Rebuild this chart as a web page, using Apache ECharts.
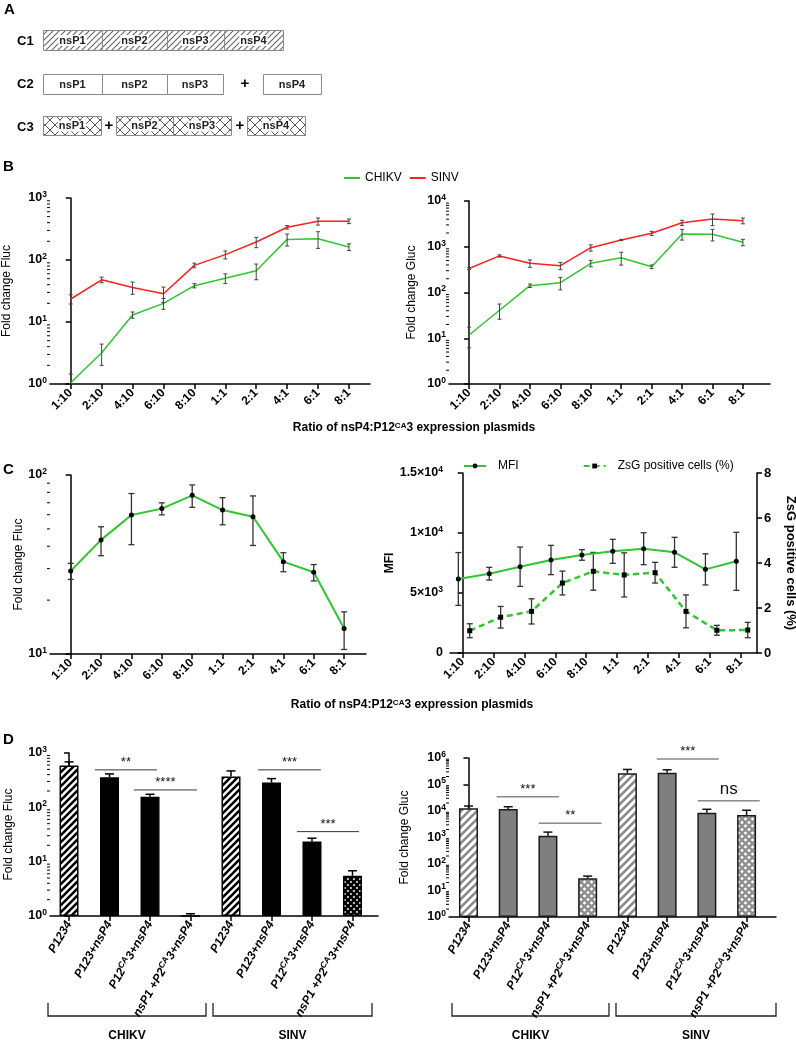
<!DOCTYPE html>
<html><head><meta charset="utf-8">
<script src="https://cdn.jsdelivr.net/npm/echarts@6/dist/echarts.min.js"></script>
<style>html,body{margin:0;padding:0;background:#fff}#c{width:796px;height:1049px}</style>
</head><body><div id="c"></div><script>
// ---------- DATA ----------
const ratios = ['1:10','2:10','4:10','6:10','8:10','1:1','2:1','4:1','6:1','8:1'];
// Panel B (Fluc, Gluc) mean and SD
const bFlucCHIKV   = [1.05, 3.2, 13, 20, 38.5, 50.7, 67, 215, 220, 162];
const bFlucCHIKVsd = [0.4, 1.2, 1.5, 4, 3, 9, 19, 47, 66, 20];
const bFlucSINV    = [23.5, 48, 36, 28.6, 82, 122, 195, 337, 421, 422];
const bFlucSINVsd  = [4, 5, 8, 8, 7, 18, 37, 22, 55, 36];
const bGlucCHIKV   = [11.8, 41, 141, 164, 435, 577, 366, 1900, 1870, 1250];
const bGlucCHIKVsd = [5.6, 15, 12, 50, 70, 180, 33, 500, 530, 200];
const bGlucSINV    = [335, 630, 435, 385, 953, 1405, 1968, 3357, 4042, 3711];
const bGlucSINVsd  = [15, 35, 80, 70, 150, 40, 200, 430, 1150, 540];
// Panel C
const cFluc   = [29.1, 43.4, 59.8, 64.9, 77, 63.7, 58.4, 32.8, 28.6, 13.9];
const cFlucSd = [3, 8, 19, 5, 11, 11, 18, 4, 3, 3.3];
const cMFI    = [6170, 6610, 7190, 7750, 8170, 8470, 8690, 8390, 6970, 7640];
const cMFIsd  = [2200, 530, 1640, 1220, 440, 1000, 1330, 1250, 1300, 2420];
const cZsG    = [0.99, 1.59, 1.85, 3.11, 3.63, 3.47, 3.57, 1.85, 1.01, 1.02];
const cZsGsd  = [0.31, 0.48, 0.56, 0.53, 0.84, 0.98, 0.46, 0.73, 0.22, 0.34];
// Panel D
const dGroups = ['CHIKV', 'SINV'];
const dLabels = ['P1234','P123+nsP4','P12{s|CA}3+nsP4','nsP1 +P2{s|CA}3+nsP4',
                 'P1234','P123+nsP4','P12{s|CA}3+nsP4','nsP1 +P2{s|CA}3+nsP4'];
const dFluc   = [586, 358, 157, 1.0, 368, 285, 23.4, 5.5];
const dFlucSd = [100, 54, 17, 0.1, 100, 53, 3.6, 1.3];
const dGluc   = [12600, 11900, 1170, 29, 265000, 279000, 8620, 7080];
const dGlucSd = [2800, 2600, 430, 6, 105000, 80000, 3000, 3600];
// significance annotations: [from bar, to bar, height]
const dFlucSig = [[0.64, 2.17, 489], [1.6, 3.16, 209], [4.67, 6.22, 489], [5.63, 7.16, 35.7]];
const dFlucSigText = ['**', '****', '***', '***'];
const dGlucSig = [[0.71, 2.28, 34700], [1.77, 3.35, 3436], [4.74, 6.30, 912000], [5.77, 7.33, 24400]];
const dGlucSigText = ['***', '**', '***', 'ns'];

// ---------- HELPERS ----------
const FONT = 'Liberation Sans, Arial, Helvetica, sans-serif';
const GREEN = '#2fc62f', RED = '#ff2020';
function mkCanvas(w, h, draw) { const c = document.createElement('canvas'); c.width = w; c.height = h; draw(c.getContext('2d')); return c; }
const pat = c => ({ image: c, repeat: 'repeat' });
function hatch(fg, bg, s, lw) {
  return pat(mkCanvas(s, s, g => {
    g.fillStyle = bg; g.fillRect(0, 0, s, s);
    g.strokeStyle = fg; g.lineWidth = lw; g.lineCap = 'square';
    g.beginPath();
    g.moveTo(0, s); g.lineTo(s, 0);
    g.moveTo(-s / 2, s / 2); g.lineTo(s / 2, -s / 2);
    g.moveTo(s / 2, s * 1.5); g.lineTo(s * 1.5, s / 2);
    g.stroke();
  }));
}
function cross(fg, bg, s, lw) {
  return pat(mkCanvas(s, s, g => {
    g.fillStyle = bg; g.fillRect(0, 0, s, s);
    g.strokeStyle = fg; g.lineWidth = lw;
    g.beginPath();
    g.moveTo(0, 0); g.lineTo(s, s); g.moveTo(0, s); g.lineTo(s, 0);
    g.stroke();
  }));
}
const pts = (arr, off = 0) => arr.map((v, i) => [i + off, v]);
const errs = (m, sd, off = 0) => m.map((v, i) => [i + off, v, sd[i]]);

function errSeries(xi, yi, data, o) {
  return {
    type: 'custom', xAxisIndex: xi, yAxisIndex: yi, data, silent: true, clip: false, z: o.z || 4,
    encode: { x: 0, y: 1 },
    renderItem: (p, api) => {
      const x = api.value(0), m = api.value(1), s = api.value(2);
      let lo = o.upOnly ? m : m - s; if (lo < o.floor) lo = o.floor;
      const a = api.coord([x, m + s]), b = api.coord([x, lo]);
      const hw = o.cap / 2, st = { stroke: o.color, lineWidth: o.lw };
      const ch = [
        { type: 'line', shape: { x1: b[0], y1: b[1], x2: a[0], y2: a[1] }, style: st },
        { type: 'line', shape: { x1: a[0] - hw, y1: a[1], x2: a[0] + hw, y2: a[1] }, style: st }
      ];
      if (!o.upOnly) ch.push({ type: 'line', shape: { x1: b[0] - hw, y1: b[1], x2: b[0] + hw, y2: b[1] }, style: st });
      return { type: 'group', children: ch };
    }
  };
}
function minorSeries(xi, yi, xmin, lo, hi) {
  const vals = [];
  for (let e = lo; e < hi; e++) for (let j = 2; j <= 9; j++) vals.push([xmin, j * Math.pow(10, e)]);
  return {
    type: 'custom', xAxisIndex: xi, yAxisIndex: yi, data: vals, silent: true, clip: false, z: 1,
    encode: { x: 0, y: 1 },
    renderItem: (p, api) => {
      const c = api.coord([api.value(0), api.value(1)]);
      return { type: 'line', shape: { x1: c[0] - 3, y1: c[1], x2: c[0], y2: c[1] }, style: { stroke: '#000', lineWidth: 1 } };
    }
  };
}
function sigSeries(xi, yi, data, texts, col, lw) {
  return {
    type: 'custom', xAxisIndex: xi, yAxisIndex: yi, data, silent: true, clip: false, z: 6,
    encode: { x: [0, 1], y: 2 },
    renderItem: (p, api) => {
      const a = api.coord([api.value(0), api.value(2)]), b = api.coord([api.value(1), api.value(2)]);
      const t = texts[p.dataIndex];
      return { type: 'group', children: [
        { type: 'line', shape: { x1: a[0], y1: a[1], x2: b[0], y2: b[1] }, style: { stroke: col, lineWidth: lw } },
        { type: 'text', x: (a[0] + b[0]) / 2, y: a[1] - (t === 'ns' ? 3 : 1),
          style: { text: t, fill: '#111', font: (t === 'ns' ? '17px ' : '13px ') + FONT, align: 'center', verticalAlign: 'bottom' } }
      ] };
    }
  };
}

const supRich = {
  b: { fontSize: 12.5, fontWeight: 'bold', fontFamily: FONT, color: '#000', lineHeight: 16 },
  s: { fontSize: 8.5, fontWeight: 'bold', fontFamily: FONT, color: '#000', lineHeight: 9, verticalAlign: 'top' }
};
const logLabel = v => '{b|10}{s|' + Math.round(Math.log10(v)) + '}';
const axLine = { show: true, lineStyle: { color: '#000', width: 1.5 } };
const axTick = { show: true, length: 5, lineStyle: { color: '#000', width: 1.5 } };
const nameStyle = { fontFamily: FONT, fontSize: 12, color: '#000' };

function xAx(gi, min, max, labels, rotate, extra) {
  const vals = labels.map((_, i) => i);
  return {
    type: 'value', gridIndex: gi, min, max, axisLine: axLine, splitLine: { show: false },
    axisTick: Object.assign({}, axTick, { customValues: vals }),
    axisLabel: Object.assign({ customValues: vals, formatter: v => labels[Math.round(v)], rotate, margin: 7,
      fontFamily: FONT, fontWeight: 'bold', fontSize: 12, color: '#000' }, extra || {})
  };
}
function yLog(gi, min, max, name, nameGap) {
  return {
    type: 'log', logBase: 10, gridIndex: gi, min, max, splitNumber: Math.round(Math.log10(max / min)),
    axisLine: axLine, axisTick: axTick, splitLine: { show: false },
    axisLabel: { formatter: logLabel, rich: supRich, margin: 3 },
    name, nameLocation: 'middle', nameGap, nameRotate: 90, nameTextStyle: nameStyle
  };
}

// patterns
const pHatchA = hatch('#666', '#fff', 6, 1.1);
const pCrossA = cross('#555', '#fff', 10, 1);
const pHatchBlk = hatch('#000', '#fff', 7, 2.6);
const pCrossBlk = cross('#000', '#fff', 6, 2.6);
const pHatchGry = hatch('#8a8a8a', '#fff', 8, 2.6);
const pCrossGry = cross('#8f8f8f', '#fff', 7, 2.4);
const dFlucFill = [pHatchBlk, '#000', '#000', pCrossBlk, pHatchBlk, '#000', '#000', pCrossBlk];
const dGlucFill = [pHatchGry, '#7f7f7f', '#7f7f7f', pCrossGry, pHatchGry, '#7f7f7f', '#7f7f7f', pCrossGry];

// ---------- PANEL A & decorations (graphics) ----------
const gfx = [];
const T = (x, y, text, font, extra) => gfx.push({ type: 'text', x, y, silent: true,
  style: Object.assign({ text, font, fill: '#000', align: 'left', verticalAlign: 'middle' }, extra || {}) });
T(4, 10, 'A', 'bold 15px ' + FONT);
T(3, 167, 'B', 'bold 15px ' + FONT);
T(3, 470, 'C', 'bold 15px ' + FONT);
T(3, 740, 'D', 'bold 15px ' + FONT);
T(17, 41, 'C1', 'bold 13px ' + FONT);
T(17, 84, 'C2', 'bold 13px ' + FONT);
T(17, 127, 'C3', 'bold 13px ' + FONT);
const boxes = [
  [43, 30, 59, 20, 'nsP1', pHatchA], [102, 30, 65, 20, 'nsP2', pHatchA], [167, 30, 57, 20, 'nsP3', pHatchA], [224, 30, 59, 20, 'nsP4', pHatchA],
  [43, 74, 59, 20, 'nsP1', null], [102, 74, 65, 20, 'nsP2', null], [167, 74, 56, 20, 'nsP3', null], [263, 74, 58, 20, 'nsP4', null],
  [43, 116, 58, 19, 'nsP1', pCrossA], [116, 116, 57, 19, 'nsP2', pCrossA], [173, 116, 58, 19, 'nsP3', pCrossA], [247, 116, 58, 19, 'nsP4', pCrossA]
];
boxes.forEach(b => {
  gfx.push({ type: 'rect', silent: true, shape: { x: b[0] + 0.5, y: b[1] + 0.5, width: b[2], height: b[3] },
    style: { fill: b[5] || '#fff', stroke: '#8a8a8a', lineWidth: 1 } });
  gfx.push({ type: 'text', silent: true, x: b[0] + b[2] / 2, y: b[1] + b[3] / 2 + 0.5,
    style: Object.assign({ text: b[4], font: 'bold 11px ' + FONT, fill: '#222', align: 'center', verticalAlign: 'middle' },
      b[5] ? { backgroundColor: '#fff', padding: [0, 1] } : {}) });
});
T(245, 84, '+', 'bold 15px ' + FONT, { align: 'center' });
T(109, 126, '+', 'bold 15px ' + FONT, { align: 'center' });
T(240, 126, '+', 'bold 15px ' + FONT, { align: 'center' });
const xTitleRich = { t: { font: 'bold 12px ' + FONT, fill: '#000' }, s: { font: 'bold 8px ' + FONT, fill: '#000', lineHeight: 9, verticalAlign: 'top' } };
gfx.push({ type: 'text', silent: true, x: 414, y: 428, style: { text: '{t|Ratio of nsP4:P12}{s|CA}{t|3 expression plasmids}', rich: xTitleRich, align: 'center', verticalAlign: 'middle' } });
gfx.push({ type: 'text', silent: true, x: 412, y: 705, style: { text: '{t|Ratio of nsP4:P12}{s|CA}{t|3 expression plasmids}', rich: xTitleRich, align: 'center', verticalAlign: 'middle' } });
const brackets = [[48, 206, 'CHIKV'], [213, 372, 'SINV'], [452, 609, 'CHIKV'], [616, 776, 'SINV']];
brackets.forEach(b => {
  gfx.push({ type: 'polyline', silent: true, shape: { points: [[b[0], 1003], [b[0], 1016], [b[1], 1016], [b[1], 1003]] },
    style: { stroke: '#222', lineWidth: 1.3, fill: null } });
  T((b[0] + b[1]) / 2, 1036, b[2], 'bold 12px ' + FONT, { align: 'center' });
});

// ---------- OPTION ----------
const dLabelStyle = { rotate: 60, margin: 6, fontStyle: 'italic', fontSize: 12, lineHeight: 15,
  rich: { s: { fontSize: 8.5, fontStyle: 'italic', fontFamily: FONT, color: '#000', lineHeight: 9, verticalAlign: 'top' } } };

const option = {
  animation: false,
  textStyle: { fontFamily: FONT },
  grid: [
    { left: 50, top: 198, width: 320, height: 186, outerBoundsMode: 'none' },
    { left: 449, top: 201, width: 321, height: 183, outerBoundsMode: 'none' },
    { left: 50, top: 475, width: 316, height: 179, outerBoundsMode: 'none' },
    { left: 450, top: 473, width: 307, height: 180, outerBoundsMode: 'none' },
    { left: 50, top: 753, width: 328, height: 163, outerBoundsMode: 'none' },
    { left: 449, top: 758, width: 327, height: 159, outerBoundsMode: 'none' }
  ],
  legend: [
    { data: ['CHIKV', 'SINV'], left: 343, top: 172, itemWidth: 16, itemHeight: 2, itemGap: 7, padding: 0,
      textStyle: { fontFamily: FONT, fontSize: 12, color: '#000' } },
    { data: ['MFI', 'ZsG positive cells (%)'], left: 463, top: 460, itemWidth: 22, itemHeight: 6, itemGap: 64, padding: 0,
      textStyle: { fontFamily: FONT, fontSize: 12, color: '#000', padding: [0, 0, 0, 7] } }
  ],
  xAxis: [
    xAx(0, -0.67, 9.68, ratios, 45),
    xAx(1, -0.66, 9.89, ratios, 45),
    xAx(2, -0.68, 9.72, ratios, 45),
    xAx(3, -0.41, 9.53, ratios, 45),
    xAx(4, -0.47, 7.63, dLabels, 60, dLabelStyle),
    xAx(5, -0.49, 7.74, dLabels, 60, dLabelStyle)
  ],
  yAxis: [
    yLog(0, 1, 1000, 'Fold change Fluc', 37),
    yLog(1, 1, 10000, 'Fold change Gluc', 31),
    yLog(2, 10, 100, 'Fold change Fluc', 22),
    { type: 'value', gridIndex: 3, min: 0, max: 15000, interval: 5000, axisLine: axLine, axisTick: axTick, splitLine: { show: false },
      axisLabel: { margin: 7, fontWeight: 'bold', fontSize: 12.5, color: '#000', rich: supRich,
        formatter: v => ({ 0: '0', 5000: '{b|5×10}{s|3}', 10000: '{b|1×10}{s|4}', 15000: '{b|1.5×10}{s|4}' })[v] },
      name: 'MFI', nameLocation: 'middle', nameGap: 50, nameRotate: 90, nameTextStyle: Object.assign({}, nameStyle, { fontWeight: 'bold' }) },
    { type: 'value', gridIndex: 3, position: 'right', min: 0, max: 8, interval: 2, axisLine: axLine, axisTick: axTick, splitLine: { show: false },
      axisLabel: { margin: 7, fontWeight: 'bold', fontSize: 13, color: '#000' },
      name: 'ZsG positive cells (%)', nameLocation: 'middle', nameGap: 27, nameRotate: -90,
      nameTextStyle: Object.assign({}, nameStyle, { fontWeight: 'bold', fontSize: 13 }) },
    yLog(4, 1, 1000, 'Fold change Fluc', 35),
    yLog(5, 1, 1000000, 'Fold change Gluc', 38)
  ],
  graphic: gfx,
  series: [
    // Panel B left
    { type: 'line', name: 'SINV', xAxisIndex: 0, yAxisIndex: 0, data: pts(bFlucSINV), symbol: 'none', lineStyle: { color: RED, width: 1.5 }, itemStyle: { color: RED }, z: 3 },
    { type: 'line', name: 'CHIKV', xAxisIndex: 0, yAxisIndex: 0, data: pts(bFlucCHIKV), symbol: 'none', lineStyle: { color: GREEN, width: 1.5 }, itemStyle: { color: GREEN }, z: 3 },
    errSeries(0, 0, errs(bFlucSINV, bFlucSINVsd), { color: '#444', lw: 1, cap: 4, floor: 1 }),
    errSeries(0, 0, errs(bFlucCHIKV, bFlucCHIKVsd), { color: '#444', lw: 1, cap: 4, floor: 1 }),
    minorSeries(0, 0, -0.67, 0, 3),
    // Panel B right
    { type: 'line', name: 'SINV', xAxisIndex: 1, yAxisIndex: 1, data: pts(bGlucSINV), symbol: 'none', lineStyle: { color: RED, width: 1.5 }, itemStyle: { color: RED }, z: 3 },
    { type: 'line', name: 'CHIKV', xAxisIndex: 1, yAxisIndex: 1, data: pts(bGlucCHIKV), symbol: 'none', lineStyle: { color: GREEN, width: 1.5 }, itemStyle: { color: GREEN }, z: 3 },
    errSeries(1, 1, errs(bGlucSINV, bGlucSINVsd), { color: '#444', lw: 1, cap: 4, floor: 1 }),
    errSeries(1, 1, errs(bGlucCHIKV, bGlucCHIKVsd), { color: '#444', lw: 1, cap: 4, floor: 1 }),
    minorSeries(1, 1, -0.66, 0, 4),
    // Panel C left
    { type: 'line', name: 'C Fluc', xAxisIndex: 2, yAxisIndex: 2, data: pts(cFluc), symbol: 'circle', symbolSize: 5,
      lineStyle: { color: GREEN, width: 2 }, itemStyle: { color: '#000' }, z: 5 },
    errSeries(2, 2, errs(cFluc, cFlucSd), { color: '#333', lw: 1.3, cap: 6, floor: 10, z: 4 }),
    minorSeries(2, 2, -0.68, 1, 2),
    // Panel C right
    { type: 'line', name: 'MFI', xAxisIndex: 3, yAxisIndex: 3, data: pts(cMFI, -0.14), symbol: 'circle', symbolSize: 5,
      lineStyle: { color: GREEN, width: 2 }, itemStyle: { color: '#000' }, z: 5 },
    { type: 'line', name: 'ZsG positive cells (%)', xAxisIndex: 3, yAxisIndex: 4, data: pts(cZsG, 0.23), symbol: 'rect', symbolSize: 5,
      lineStyle: { color: GREEN, width: 2.5, type: [6, 4] }, itemStyle: { color: '#000' }, z: 5 },
    errSeries(3, 3, errs(cMFI, cMFIsd, -0.14), { color: '#333', lw: 1.3, cap: 6, floor: 0, z: 4 }),
    errSeries(3, 4, errs(cZsG, cZsGsd, 0.23), { color: '#333', lw: 1.3, cap: 6, floor: 0, z: 4 }),
    // Panel D left
    { type: 'bar', name: 'D Fluc', xAxisIndex: 4, yAxisIndex: 5, barWidth: 19,
      data: dFluc.map((v, i) => ({ value: [i, v], itemStyle: { color: dFlucFill[i] } })),
      itemStyle: { borderColor: '#000', borderWidth: 1.5 }, z: 2 },
    errSeries(4, 5, errs(dFluc, dFlucSd), { color: '#000', lw: 1.5, cap: 9, floor: 1, upOnly: true, z: 1 }),
    minorSeries(4, 5, -0.47, 0, 3),
    sigSeries(4, 5, dFlucSig, dFlucSigText, '#333', 1),
    // Panel D right
    { type: 'bar', name: 'D Gluc', xAxisIndex: 5, yAxisIndex: 6, barWidth: 19,
      data: dGluc.map((v, i) => ({ value: [i, v], itemStyle: { color: dGlucFill[i] } })),
      itemStyle: { borderColor: '#1a1a1a', borderWidth: 1.5 }, z: 2 },
    errSeries(5, 6, errs(dGluc, dGlucSd), { color: '#111', lw: 1.5, cap: 9, floor: 1, upOnly: true, z: 1 }),
    minorSeries(5, 6, -0.49, 0, 6),
    sigSeries(5, 6, dGlucSig, dGlucSigText, '#888', 1.5)
  ]
};
const chart = echarts.init(document.getElementById('c'), null, { renderer: 'canvas', width: 796, height: 1049 });
chart.setOption(option);
</script></body></html>
